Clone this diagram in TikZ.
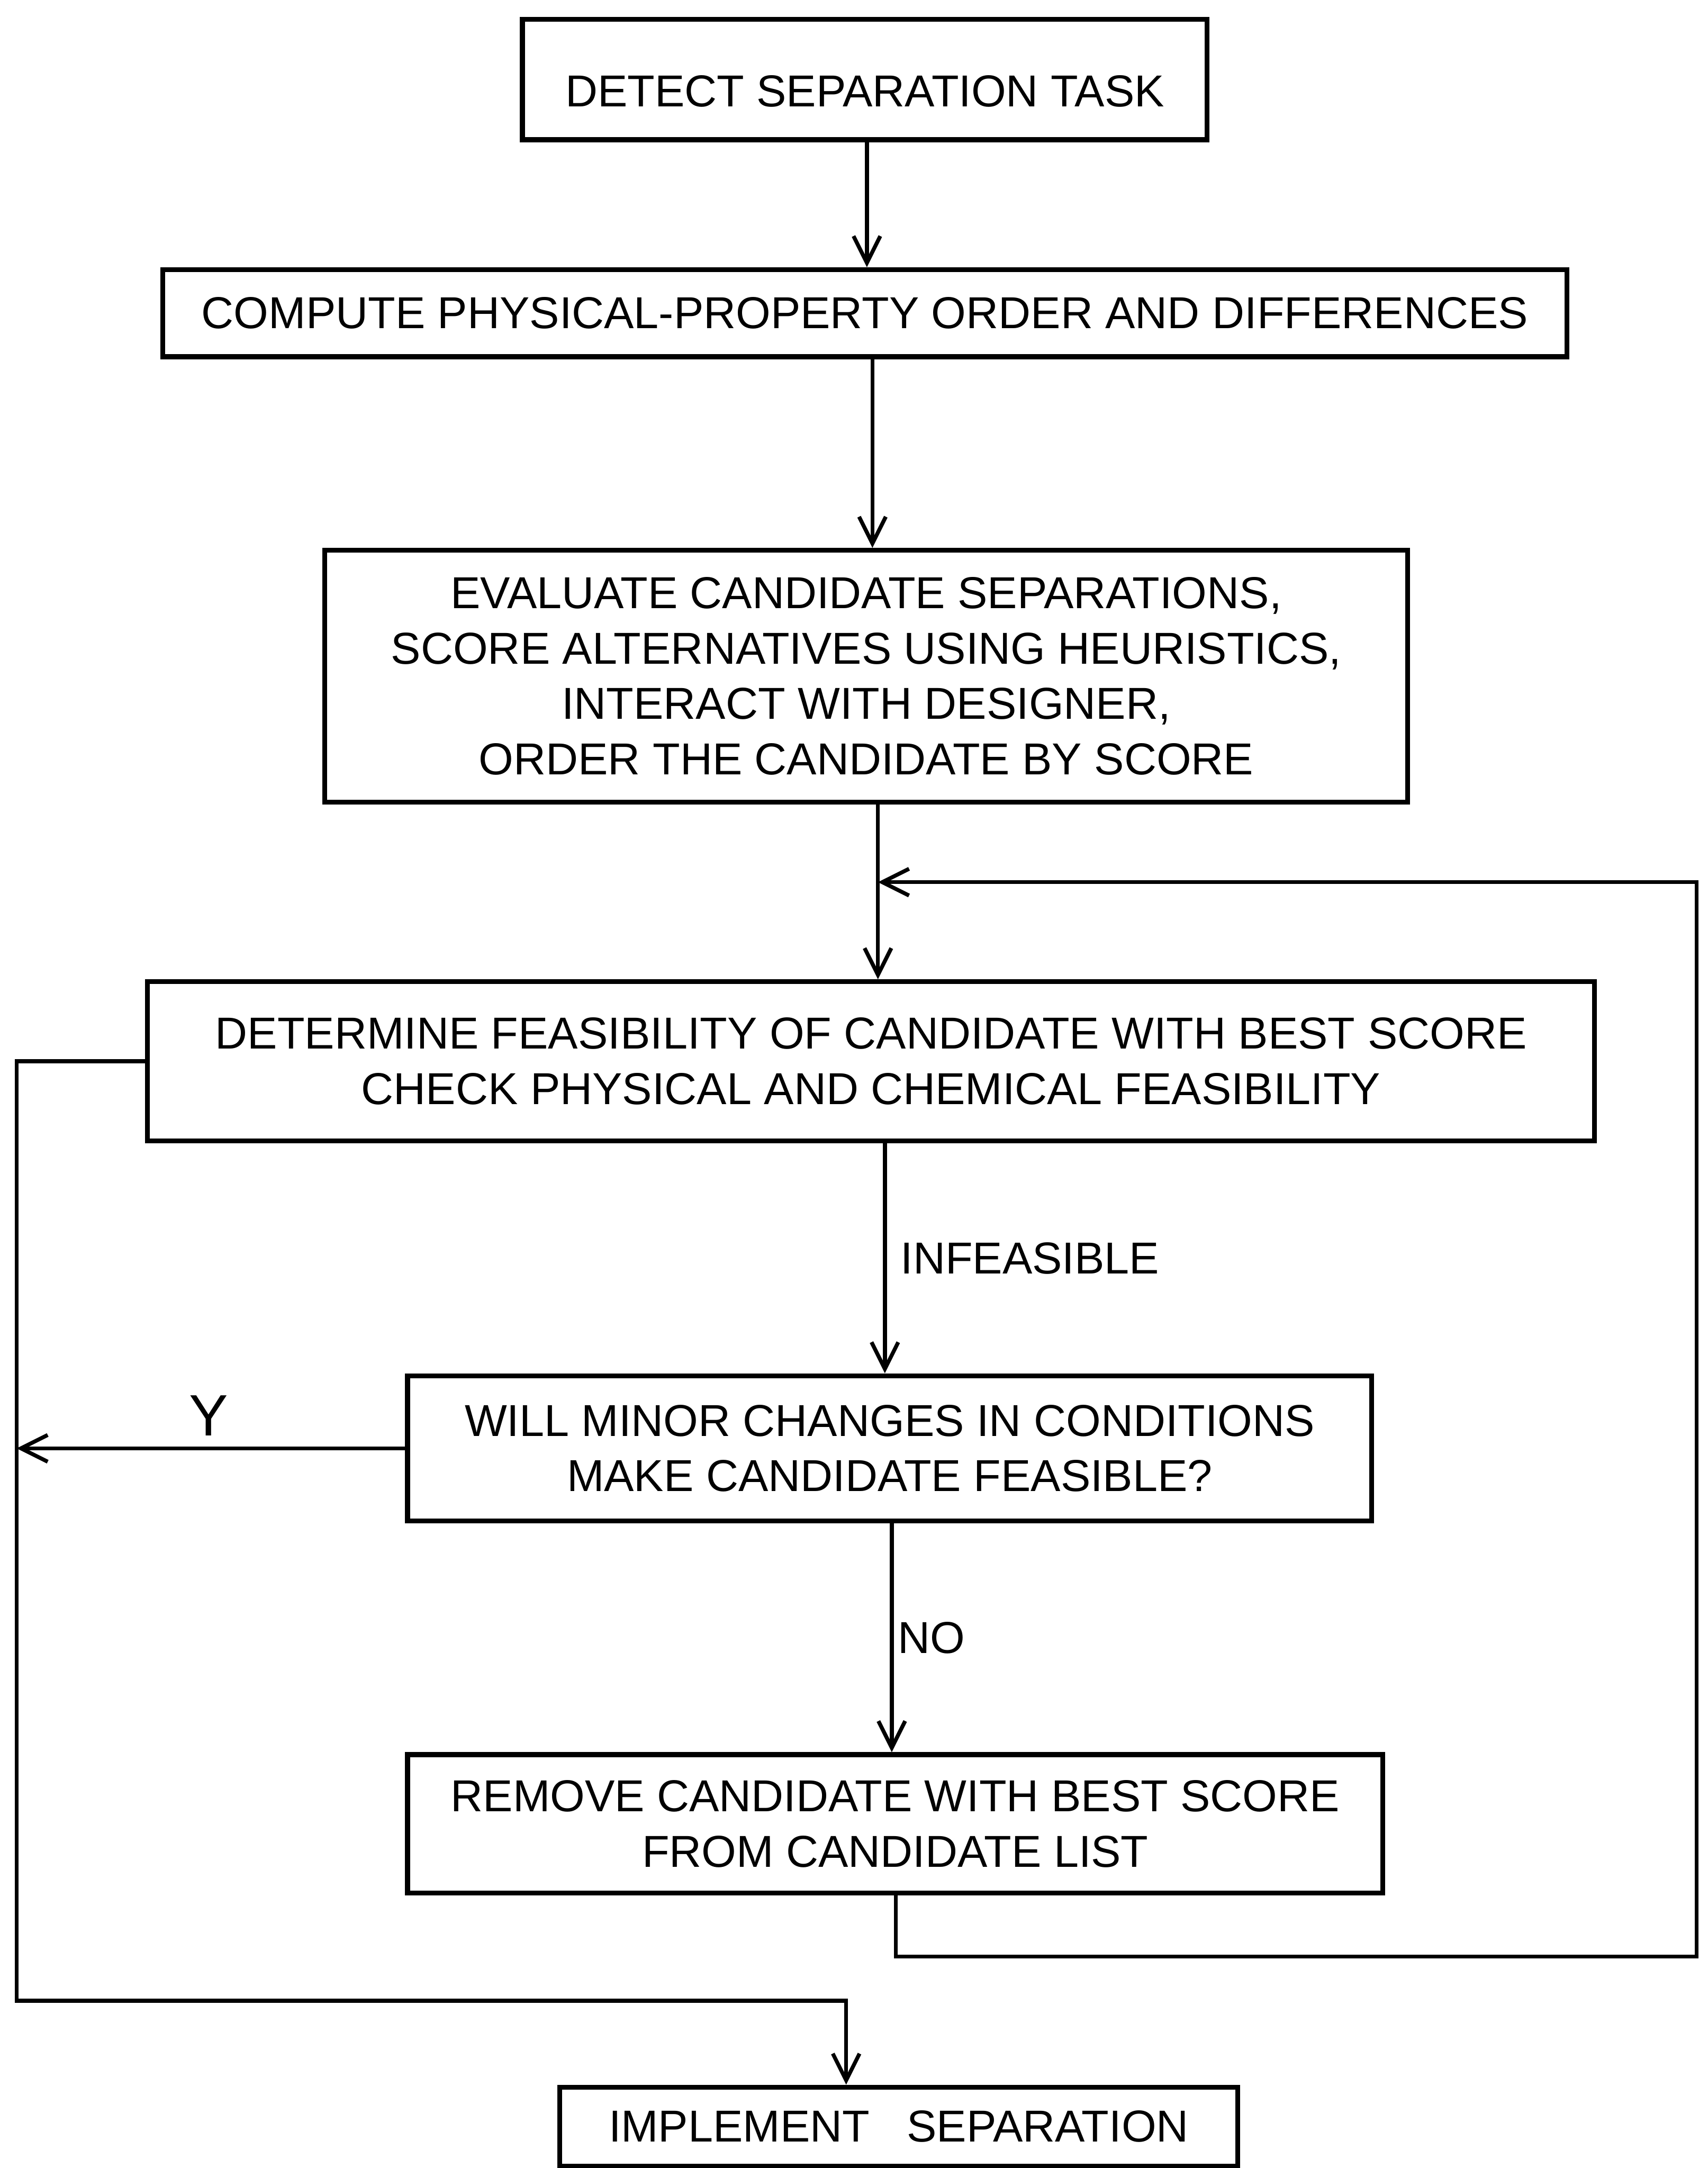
\documentclass[tikz,border=0pt]{standalone}
\usepackage{fontspec}
\setmainfont{Liberation Sans}
\usetikzlibrary{arrows.meta}

\begin{document}
\begin{tikzpicture}[
  x=0.01cm, y=-0.01cm,
  every node/.style={font=\fontsize{9.2pt}{11.4pt}\selectfont},
  stepbox/.style={draw, line width=1.0pt, rectangle, inner sep=0pt, align=center},
  flow/.style={line width=0.8pt, -{Straight Barb[length=5.5pt,width=5.5pt,line width=0.8pt]}},
  tag/.style={inner sep=0pt, anchor=west}
]
\useasboundingbox (0,0) rectangle (1235,1568);

% process boxes
\node[stepbox, minimum width=4.95cm, minimum height=0.87cm,
      text height=0.45cm, text depth=0.06cm] (b1) at (625.5,57.5)
  {DETECT SEPARATION TASK};
\node[stepbox, minimum width=10.15cm, minimum height=0.63cm] (b2) at (625.5,226.5)
  {COMPUTE PHYSICAL-PROPERTY ORDER AND DIFFERENCES};
\node[stepbox, minimum width=7.83cm, minimum height=1.82cm] (b3) at (626.5,489)
  {EVALUATE CANDIDATE SEPARATIONS,\\
   SCORE ALTERNATIVES USING HEURISTICS,\\
   INTERACT WITH DESIGNER,\\
   ORDER THE CANDIDATE BY SCORE};
\node[stepbox, minimum width=10.46cm, minimum height=1.15cm] (b4) at (630,767.5)
  {DETERMINE FEASIBILITY OF CANDIDATE WITH BEST SCORE\\
   CHECK PHYSICAL AND CHEMICAL FEASIBILITY};
\node[stepbox, minimum width=6.97cm, minimum height=1.05cm] (b5) at (643.5,1047.5)
  {WILL MINOR CHANGES IN CONDITIONS\\
   MAKE CANDIDATE FEASIBLE?};
\node[stepbox, minimum width=7.05cm, minimum height=1.00cm] (b6) at (647.5,1319)
  {REMOVE CANDIDATE WITH BEST SCORE\\
   FROM CANDIDATE LIST};
\node[stepbox, minimum width=4.90cm, minimum height=0.57cm] (b7) at (650,1538)
  {IMPLEMENT\ \ \ SEPARATION};

% connector columns and bend points
\coordinate (x12) at (627,0);
\coordinate (x23) at (631,0);
\coordinate (x34) at (635,0);
\coordinate (x45) at (640,0);
\coordinate (x56) at (645,0);
\coordinate (x6o) at (648,0);
\coordinate (x7i) at (612,0);
\coordinate (join) at (635,638);
\coordinate (rloop) at (1227,1415);
\coordinate (lloop) at (12,1447);

% main flow
\draw[flow] (b1.south -| x12) -- (b2.north -| x12);
\draw[flow] (b2.south -| x23) -- (b3.north -| x23);
\draw[flow] (b3.south -| x34) -- (b4.north -| x34);
\draw[flow] (b4.south -| x45) -- (b5.north -| x45)
  node[tag, pos=0.5, xshift=0.1cm] (lblinf) {INFEASIBLE};
\draw[flow] (b5.south -| x56) -- (b6.north -| x56)
  node[tag, pos=0.5, xshift=0.03cm] (lblno) {NO};

% return loop from the candidate list back to the feasibility check
\draw[flow] (b6.south -| x6o) |- (rloop) |- (join);

% feasible path down to implementation
\draw[flow] (b4.west) -| (lloop) -| (b7.north -| x7i);
\draw[flow] (b5.west) -- (b5.west -| lloop);
\node[inner sep=0pt, font=\fontsize{12pt}{12pt}\selectfont] (lbly) at (151,1024) {Y};
\end{tikzpicture}
\end{document}
